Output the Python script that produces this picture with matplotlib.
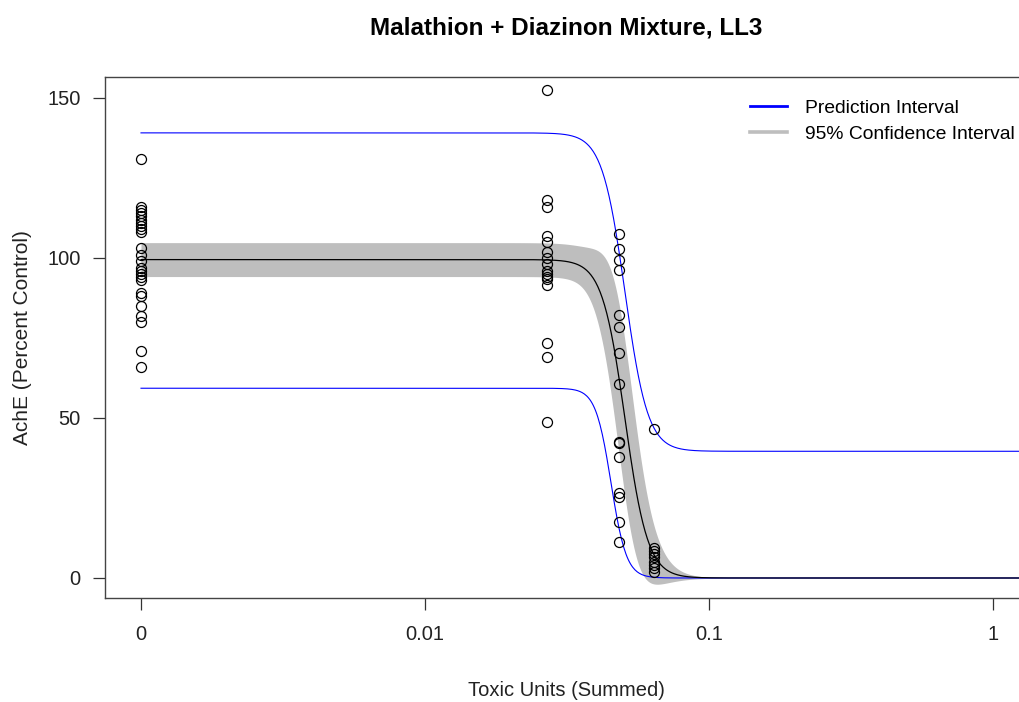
import numpy as np
import matplotlib.pyplot as plt

plt.rcParams['font.family'] = ['Liberation Sans', 'DejaVu Sans']

# control group is drawn one decade below 0.01 and labelled "0"
dose_levels = [0.001, 0.0269, 0.0482, 0.0640]
ache_ctrl = [131, 116, 115, 114, 113, 112, 111, 110, 109, 108, 103, 101, 99,
             97, 96, 95, 94, 93, 89, 88, 85, 82, 80, 71, 66]
ache_low = [152.5, 118, 116, 107, 105, 102, 100, 98, 96, 95, 94, 93.5, 91.5,
            73.5, 69, 48.7]
ache_mid = [107.5, 102.7, 99.4, 96.3, 82.2, 78.5, 70.2, 60.6, 42.6, 42.2,
            37.9, 26.5, 25.4, 17.6, 11.4]
ache_high = [46.5, 9.5, 8.5, 7.5, 6.5, 5, 4, 3, 2]

# LL3 fit: upper limit, slope, ED50
ll3_d = 99.5
ll3_b = 10.8
ll3_e = 0.0506
# 95% half widths of the parameters (d, log ED50, slope)
ci_d = 5.3
ci_lne = 0.09
ci_b = 4.0
# prediction limits: upper is the fit shifted up, lower its own LL3 shape
pi_up = 39.6
pi_lo_d = 59.3
pi_lo_b = 16.0
pi_lo_e = 0.0452

xticks = [0.001, 0.01, 0.1, 1]
xticklabels = ['0', '0.01', '0.1', '1']
yticks = [0, 50, 100, 150]


def ll3(x, b, d, e):
    return d / (1 + np.exp(b * (np.log(x) - np.log(e))))


def ci_half(x):
    # delta method for the confidence band
    z = np.log(x) - np.log(ll3_e)
    u = np.exp(ll3_b * z)
    g = u / (1 + u) ** 2
    f = ll3_d / (1 + u)
    return np.sqrt((ci_d * f / ll3_d) ** 2 +
                   (ci_lne * ll3_d * ll3_b * g) ** 2 +
                   (ci_b * ll3_d * z * g) ** 2)


fig = plt.figure(figsize=(10.2, 7.02), dpi=100)
ax = fig.add_axes([105 / 1020, 104 / 702, 935 / 1020, 521 / 702])

xlo = 10 ** (-2 - 320 / 284)
xhi = 10 ** (-2 + 615 / 284)
xs = np.logspace(np.log10(dose_levels[0]), np.log10(xhi), 800)
fit = ll3(xs, ll3_b, ll3_d, ll3_e)
half = ci_half(xs)

ax.fill_between(xs, fit - half, fit + half, color='#BEBEBE', lw=0, zorder=1)
ax.plot(xs, fit, color='black', lw=0.9, zorder=3)
ax.plot(xs, fit + pi_up, color='#0000FF', lw=0.8, zorder=2)
ax.plot(xs, ll3(xs, pi_lo_b, pi_lo_d, pi_lo_e), color='#0000FF', lw=0.8,
        zorder=2)

groups = [ache_ctrl, ache_low, ache_mid, ache_high]
for d, vals in zip(dose_levels, groups):
    ax.plot([d] * len(vals), vals, 'o', mfc='none', mec='black', ms=7.2,
            mew=0.9, zorder=4)

ax.set_xscale('log')
ax.set_xlim(xlo, xhi)
ax.set_ylim(-6.25, 156.56)
ax.set_xticks(xticks)
ax.set_xticklabels(xticklabels)
ax.minorticks_off()
ax.set_yticks(yticks)
ax.tick_params(length=8.5, width=0.9, color='#333333', labelsize=14.5,
               labelcolor='#222222')
ax.tick_params(axis='x', pad=11)
ax.tick_params(axis='y', pad=9)
for s in ax.spines.values():
    s.set_color('#444444')
    s.set_linewidth(1.0)

fig.text(566 / 1020, 1 - 28 / 702, 'Malathion + Diazinon Mixture, LL3',
         ha='center', va='center', fontsize=17.5, fontweight='bold')
fig.text(566 / 1020, 1 - 690 / 702, 'Toxic Units (Summed)', ha='center',
         va='center', fontsize=14.5, color='#222222')
fig.text(23 / 1020, 1 - 338 / 702, 'AchE (Percent Control)', ha='center',
         va='center', rotation=90, fontsize=15, color='#222222')

h1, = ax.plot([], [], color='#0000FF', lw=2.0)
h2, = ax.plot([], [], color='#BEBEBE', lw=2.6)
ax.legend([h1, h2], ['Prediction Interval', '95% Confidence Interval'],
          loc='upper left', bbox_to_anchor=(750 / 1020, 1 - 99.5 / 702),
          bbox_transform=fig.transFigure, frameon=False, fontsize=13.9,
          handlelength=1.92, handletextpad=0.93, labelspacing=0.42,
          borderpad=0, borderaxespad=0)

fig.savefig('out.png', dpi=100)
